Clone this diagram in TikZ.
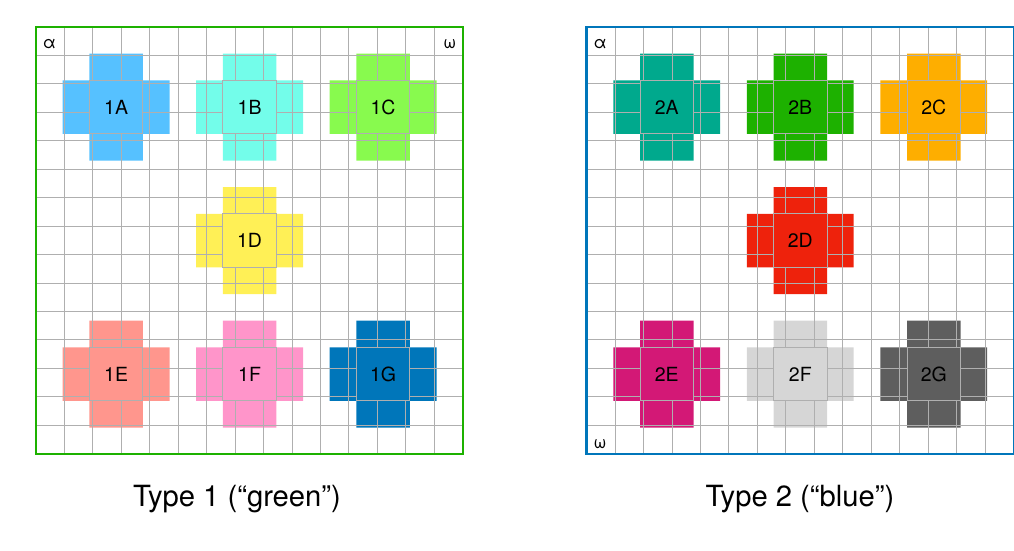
\documentclass[tikz,border=0pt]{standalone}
\usepackage{fontspec}
\setmainfont{TeX Gyre Heros}
\definecolor{gridc}{RGB}{175,175,175}
\definecolor{bordergreen}{RGB}{29,177,0}
\definecolor{borderblue}{RGB}{0,118,186}
\definecolor{c1A}{RGB}{86,193,255}
\definecolor{c1B}{RGB}{115,253,234}
\definecolor{c1C}{RGB}{136,250,78}
\definecolor{c1D}{RGB}{255,240,86}
\definecolor{c1E}{RGB}{255,150,141}
\definecolor{c1F}{RGB}{255,149,202}
\definecolor{c1G}{RGB}{0,118,186}
\definecolor{c2A}{RGB}{0,169,141}
\definecolor{c2B}{RGB}{29,177,0}
\definecolor{c2C}{RGB}{254,174,0}
\definecolor{c2D}{RGB}{238,34,12}
\definecolor{c2E}{RGB}{211,24,118}
\definecolor{c2F}{RGB}{214,214,214}
\definecolor{c2G}{RGB}{94,94,94}
\newcommand\crossfill[3]{%
  \fill[#3] (#1+1,#2) -- ++(2,0) -- ++(0,1) -- ++(1,0) -- ++(0,2) -- ++(-1,0)
    -- ++(0,1) -- ++(-2,0) -- ++(0,-1) -- ++(-1,0) -- ++(0,-2) -- ++(1,0) -- cycle;}
\newcommand\crosscenter[4]{%
  \node[centerbox, fill=#3] (#4) at (#1+2,#2+2) {#4};}
\tikzset{
  gridlines/.style={draw=gridc, line width=1pt},
  centerbox/.style={draw=gridc, line width=1pt, minimum size=53.4pt, inner sep=0pt,
    font=\fontsize{19.5}{22}\selectfont},
  corner/.style={anchor=base, inner sep=0pt, font=\fontsize{17}{20}\selectfont},
  title/.style={anchor=base, inner sep=0pt, font=\fontsize{29.2}{34}\selectfont},
}
\begin{document}
\begin{tikzpicture}[x=1pt,y=-1pt]
\useasboundingbox (0,0) rectangle (1014,551);
\clip (0,0) rectangle (1014,551);
% Grid 1
\begin{scope}[shift={(36,27)}, x=26.7pt, y=-26.7pt]
  \crossfill{1}{1}{c1A}\crossfill{6}{1}{c1B}\crossfill{11}{1}{c1C}
  \crossfill{6}{6}{c1D}
  \crossfill{1}{11}{c1E}\crossfill{6}{11}{c1F}\crossfill{11}{11}{c1G}
  \draw[gridlines] (0,0) grid (16,16);
  \crosscenter{1}{1}{c1A}{1A}\crosscenter{6}{1}{c1B}{1B}\crosscenter{11}{1}{c1C}{1C}
  \crosscenter{6}{6}{c1D}{1D}
  \crosscenter{1}{11}{c1E}{1E}\crosscenter{6}{11}{c1F}{1F}\crosscenter{11}{11}{c1G}{1G}
  \node[corner] (alpha1) at (0.5,0.82) {α};
  \node[corner] (omega1) at (15.5,0.82) {ω};
  \draw[bordergreen, line width=2.5pt] (0,0) rectangle (16,16);
\end{scope}
% Grid 2
\begin{scope}[shift={(586.7,27)}, x=26.7pt, y=-26.7pt]
  \crossfill{1}{1}{c2A}\crossfill{6}{1}{c2B}\crossfill{11}{1}{c2C}
  \crossfill{6}{6}{c2D}
  \crossfill{1}{11}{c2E}\crossfill{6}{11}{c2F}\crossfill{11}{11}{c2G}
  \draw[gridlines] (0,0) grid (16,16);
  \crosscenter{1}{1}{c2A}{2A}\crosscenter{6}{1}{c2B}{2B}\crosscenter{11}{1}{c2C}{2C}
  \crosscenter{6}{6}{c2D}{2D}
  \crosscenter{1}{11}{c2E}{2E}\crosscenter{6}{11}{c2F}{2F}\crosscenter{11}{11}{c2G}{2G}
  \node[corner] (alpha2) at (0.5,0.82) {α};
  \node[corner] (omega2) at (0.5,15.8) {ω};
  \draw[borderblue, line width=2.5pt] (0,0) rectangle (16,16);
\end{scope}
\node[title] (t1) at (237,506) {Type 1 (“green”)};
\node[title] (t2) at (800,506) {Type 2 (“blue”)};
\end{tikzpicture}
\end{document}
